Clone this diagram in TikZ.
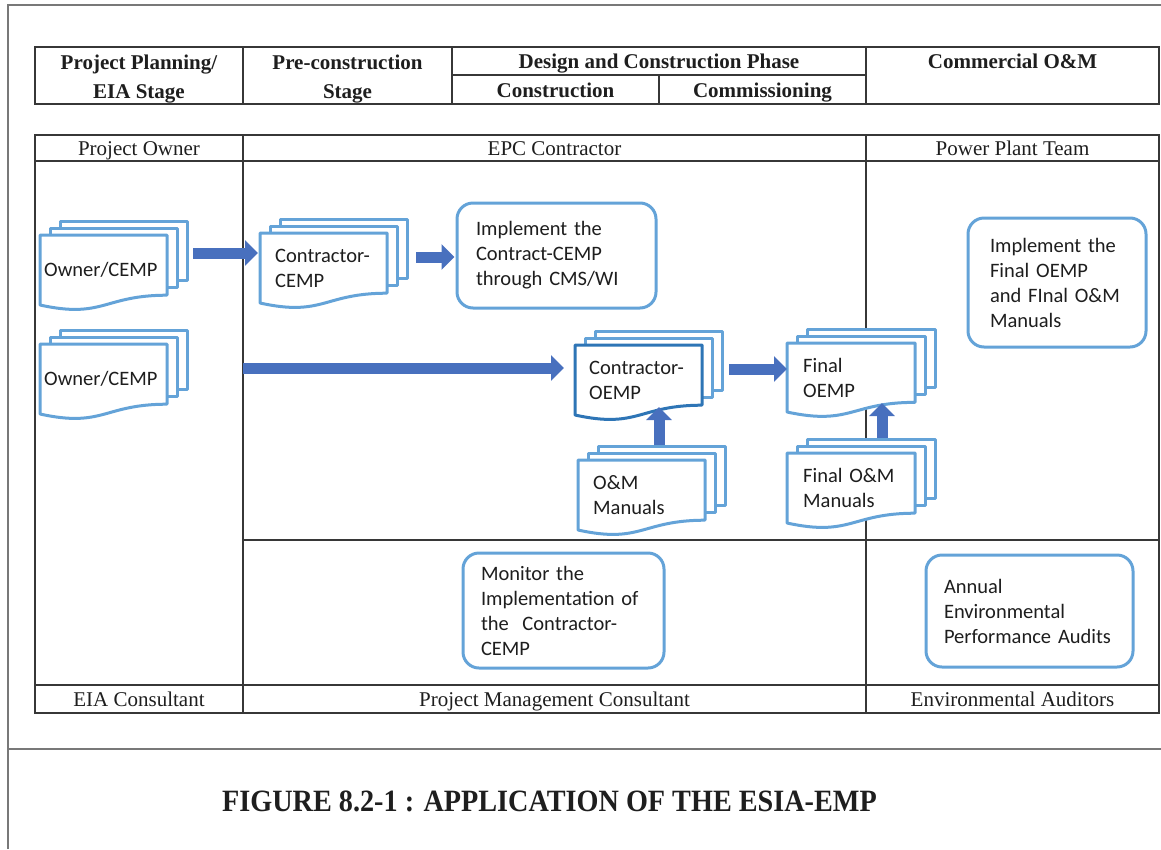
\documentclass[tikz,border=0pt]{standalone}
\usepackage{fontspec}
\setmainfont{Liberation Serif}
\newfontfamily\calfont{Carlito}
\usepackage{graphicx}
\usetikzlibrary{arrows.meta,calc}
\definecolor{docblue}{RGB}{100,163,216}
\definecolor{docdark}{RGB}{46,117,182}
\definecolor{arrowblue}{RGB}{72,112,190}
\definecolor{tline}{RGB}{55,55,55}
\definecolor{fline}{RGB}{120,120,120}
\definecolor{txt}{RGB}{30,30,30}
\tikzset{
  docline/.style={draw=docblue,line width=3pt,line join=round},
  doctext/.style={font=\calfont\fontsize{20.5}{25}\selectfont,align=left,inner ysep=0pt,text=txt},
  rbox/.style={draw=docblue,line width=3pt,rounded corners=16pt,fill=white,font=\calfont\fontsize{20.5}{25}\selectfont,align=left,text=txt,inner ysep=0pt},
  hdr/.style={font=\bfseries\fontsize{21}{29}\selectfont,align=center,text=txt,inner sep=0pt},
  lbl/.style={font=\fontsize{21}{24}\selectfont,align=center,text=txt,inner sep=0pt,anchor=base},
  tbl/.style={draw=tline,line width=1.8pt},
  frm/.style={draw=fline,line width=2pt},
  barrow/.style={draw=arrowblue,line width=11pt,-{Triangle[length=13pt,width=25pt]}}
}
% #1 front colour, #2 name, #3 x, #4 y, #5 width, #6 height, #7 inset, #8 text width, #9 text
\newcommand{\mdoc}[9][docblue]{%
  \draw[docline,fill=white] (#3+20,#4-14) rectangle (#3+#5+20,#4+0.86*#6-15);
  \draw[docline,fill=white] (#3+10,#4-7) rectangle (#3+#5+10,#4+0.86*#6-8);
  \draw[docline,draw=#1,fill=white] (#3,#4) -- (#3+#5,#4) -- (#3+#5,#4+0.86*#6)
     .. controls (#3+0.5*#5,#4+0.86*#6) and (#3+0.5*#5,#4+1.2*#6) .. (#3,#4+#6) -- cycle;
  \node[doctext,anchor=north west,minimum width=#5pt,minimum height=#6pt,inner xsep=#7,text width=#8] (#2) at (#3,#4) {#9};
}
\begin{document}
\begin{tikzpicture}[x=1pt,y=-1pt]
\useasboundingbox (0,0) rectangle (1161,849);
% outer frame
\draw[frm] (8,849) -- (8,5) -- (1161,5);
\draw[frm] (8,749) -- (1161,749);
% header table
\draw[tbl] (35,47) rectangle (1159,104);
\draw[tbl] (243,47) -- (243,104);
\draw[tbl] (452,47) -- (452,104);
\draw[tbl] (866,47) -- (866,104);
\draw[tbl] (452,75) -- (866,75);
\draw[tbl] (659,75) -- (659,104);
\node[hdr] (h1) at (139,79) {Project Planning/\\EIA Stage};
\node[hdr] (h2) at (347.5,79) {Pre-construction\\Stage};
\node[hdr,anchor=base] (h3) at (659,68) {Design and Construction Phase};
\node[hdr,anchor=base] (h4) at (555.5,97) {Construction};
\node[hdr,anchor=base] (h5) at (762.5,97) {Commissioning};
\node[hdr,anchor=base] (h6) at (1012.5,68) {Commercial O\&M};
% main table
\draw[tbl] (35,135) rectangle (1159,713);
\draw[tbl] (35,161) -- (1159,161);
\draw[tbl] (35,685) -- (1159,685);
\draw[tbl] (243,135) -- (243,713);
\draw[tbl] (866,135) -- (866,713);
\draw[tbl] (243,540) -- (1159,540);
\node[lbl] (r1) at (139,155) {Project Owner};
\node[lbl] (r2) at (554.5,155) {EPC Contractor};
\node[lbl] (r3) at (1012.5,155) {Power Plant Team};
\node[lbl] (f1) at (139,706) {EIA Consultant};
\node[lbl] (f2) at (554.5,706) {Project Management Consultant};
\node[lbl] (f3) at (1012.5,706) {Environmental Auditors};
% documents
\mdoc{own1}{40}{235}{127}{70}{4pt}{119pt}{Owner/CEMP}
\mdoc{own2}{40}{344}{127}{70}{4pt}{119pt}{Owner/CEMP}
\mdoc{ccemp}{260}{233}{127}{70}{15pt}{105pt}{Contractor-\\CEMP}
\mdoc[docdark]{coemp}{575}{345}{127}{70}{14pt}{105pt}{Contractor-\\OEMP}
\mdoc{om}{578}{460}{127}{70}{15pt}{105pt}{O\&M\\Manuals}
\mdoc{foemp}{787}{343}{128}{69}{16pt}{104pt}{Final\\OEMP}
\mdoc{fom}{787}{453}{128}{70}{16pt}{104pt}{Final O\&M\\Manuals}
% rounded boxes
\node[rbox,minimum width=199pt,minimum height=105pt,inner xsep=19pt,text width=161pt] (impl1) at (556.5,255.5) {Implement the\\Contract-CEMP\\through CMS/WI};
\node[rbox,minimum width=178pt,minimum height=129pt,inner xsep=22pt,text width=134pt] (impl2) at (1057,282.5) {Implement the\\Final OEMP\\and FInal O\&M\\Manuals};
\node[rbox,minimum width=201pt,minimum height=115pt,inner xsep=18pt,text width=165pt] (mon) at (563.5,610.5) {Monitor the\\Implementation of\\the\ \ Contractor-\\CEMP};
\node[rbox,minimum width=207pt,minimum height=112pt,inner xsep=18pt,text width=171pt] (aud) at (1029.5,611) {Annual\\Environmental\\Performance Audits};
% arrows
\coordinate (lstart) at (243,368);
\draw[barrow] ($(own1.north east)+(26,18)$) -- ($(ccemp.north west)+(-2,20)$);
\draw[barrow] ($(ccemp.north east)+(21,24)$) -- ($(impl1.west)+(-1,1.5)$);
\draw[barrow] (lstart) -- ($(coemp.north west)+(-11,23)$);
\draw[barrow] ($(coemp.north east)+(21,24)$) -- ($(foemp.north west)+(0,26)$);
\draw[barrow] ($(om.north west)+(81,-15)$) -- ($(coemp.north west)+(84,62)$);
\draw[barrow] ($(fom.north west)+(95,-15)$) -- ($(foemp.north west)+(95,60)$);
% caption
\node[font=\bfseries\fontsize{31}{36}\selectfont,text=txt,inner sep=0pt] (cap) at (549.5,801) {\scalebox{0.91}[1]{FIGURE 8.2-1 : APPLICATION OF THE ESIA-EMP}};
\end{tikzpicture}
\end{document}
